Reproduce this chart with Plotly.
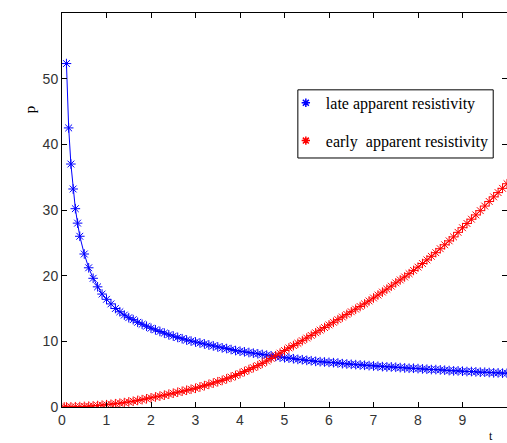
import plotly.graph_objects as go

# late apparent resistivity (blue)
t_late = [0.1, 0.15, 0.2, 0.25, 0.3, 0.35, 0.4, 0.5, 0.6, 0.7, 0.8, 0.9,
          1.0, 1.1, 1.2, 1.3, 1.4, 1.5, 1.6, 1.7, 1.8, 1.9,
          2.0, 2.1, 2.2, 2.3, 2.4, 2.5, 2.6, 2.7, 2.8, 2.9,
          3.0, 3.1, 3.2, 3.3, 3.4, 3.5, 3.6, 3.7, 3.8, 3.9,
          4.0, 4.1, 4.2, 4.3, 4.4, 4.5, 4.6, 4.7, 4.8, 4.9,
          5.0, 5.1, 5.2, 5.3, 5.4, 5.5, 5.6, 5.7, 5.8, 5.9,
          6.0, 6.1, 6.2, 6.3, 6.4, 6.5, 6.6, 6.7, 6.8, 6.9,
          7.0, 7.1, 7.2, 7.3, 7.4, 7.5, 7.6, 7.7, 7.8, 7.9,
          8.0, 8.1, 8.2, 8.3, 8.4, 8.5, 8.6, 8.7, 8.8, 8.9,
          9.0, 9.1, 9.2, 9.3, 9.4, 9.5, 9.6, 9.7, 9.8, 9.9, 10.0]
p_late = [52.3, 42.5, 37.0, 33.2, 30.2, 28.0, 26.0, 23.3, 21.2, 19.6, 18.3, 17.2,
          16.4, 15.7, 15.0, 14.5, 14.0, 13.6, 13.3, 12.9, 12.6, 12.3,
          12.0, 11.75, 11.5, 11.25, 11.0, 10.8, 10.6, 10.4, 10.2, 10.05,
          9.9, 9.75, 9.6, 9.45, 9.3, 9.15, 9.0, 8.9, 8.75, 8.6,
          8.5, 8.4, 8.3, 8.2, 8.1, 8.0, 7.9, 7.8, 7.7, 7.6,
          7.5, 7.45, 7.35, 7.25, 7.2, 7.1, 7.05, 6.95, 6.9, 6.85,
          6.8, 6.75, 6.7, 6.6, 6.55, 6.5, 6.45, 6.4, 6.35, 6.3,
          6.25, 6.2, 6.15, 6.1, 6.1, 6.05, 6.0, 5.95, 5.9, 5.9,
          5.85, 5.8, 5.75, 5.7, 5.7, 5.65, 5.6, 5.55, 5.5, 5.5,
          5.45, 5.4, 5.4, 5.35, 5.3, 5.3, 5.25, 5.2, 5.2, 5.15, 5.15]

# early apparent resistivity (red)
t_early = [0.05, 0.1, 0.2, 0.3, 0.4, 0.5, 0.6, 0.7, 0.8, 0.9,
           1.0, 1.1, 1.2, 1.3, 1.4, 1.5, 1.6, 1.7, 1.8, 1.9,
           2.0, 2.1, 2.2, 2.3, 2.4, 2.5, 2.6, 2.7, 2.8, 2.9,
           3.0, 3.1, 3.2, 3.3, 3.4, 3.5, 3.6, 3.7, 3.8, 3.9,
           4.0, 4.1, 4.2, 4.3, 4.4, 4.5, 4.6, 4.7, 4.8, 4.9,
           5.0, 5.1, 5.2, 5.3, 5.4, 5.5, 5.6, 5.7, 5.8, 5.9,
           6.0, 6.1, 6.2, 6.3, 6.4, 6.5, 6.6, 6.7, 6.8, 6.9,
           7.0, 7.1, 7.2, 7.3, 7.4, 7.5, 7.6, 7.7, 7.8, 7.9,
           8.0, 8.1, 8.2, 8.3, 8.4, 8.5, 8.6, 8.7, 8.8, 8.9,
           9.0, 9.1, 9.2, 9.3, 9.4, 9.5, 9.6, 9.7, 9.8, 9.9, 10.0]
p_early = [0.0, 0.0, 0.02, 0.04, 0.06, 0.09, 0.12, 0.17, 0.22, 0.28,
           0.35, 0.42, 0.5, 0.58, 0.67, 0.77, 0.88, 1.0, 1.12, 1.25,
           1.4, 1.53, 1.66, 1.8, 1.95, 2.1, 2.25, 2.4, 2.55, 2.7,
           2.85, 3.05, 3.25, 3.45, 3.65, 3.85, 4.05, 4.3, 4.55, 4.8,
           5.1, 5.4, 5.7, 6.0, 6.3, 6.65, 7.0, 7.4, 7.8, 8.2,
           8.6, 9.0, 9.35, 9.7, 10.1, 10.5, 10.9, 11.3, 11.7, 12.1,
           12.5, 12.9, 13.3, 13.7, 14.1, 14.5, 14.9, 15.3, 15.7, 16.15,
           16.6, 17.05, 17.5, 17.95, 18.4, 18.9, 19.35, 19.8, 20.3, 20.8,
           21.3, 21.85, 22.4, 22.95, 23.5, 24.1, 24.7, 25.3, 25.9, 26.6,
           27.3, 27.95, 28.6, 29.25, 29.9, 30.6, 31.3, 32.0, 32.65, 33.3, 34.0]

x_ticks = [0, 1, 2, 3, 4, 5, 6, 7, 8, 9, 10]
y_ticks = [0, 10, 20, 30, 40, 50]
names = ["late apparent resistivity", "early  apparent resistivity"]

fig = go.Figure()
fig.add_trace(go.Scatter(x=t_late, y=p_late, mode="lines+markers",
                         line=dict(color="blue", width=1),
                         marker=dict(symbol="asterisk-open", size=8, color="blue",
                                     line=dict(color="blue", width=1)),
                         showlegend=False))
fig.add_trace(go.Scatter(x=t_early, y=p_early, mode="lines+markers",
                         line=dict(color="red", width=1),
                         marker=dict(symbol="asterisk-open", size=8, color="red",
                                     line=dict(color="red", width=1)),
                         showlegend=False))
# legend entries (marker only)
for nm, col, grp in [(names[0], "blue", "a"), (names[1], "red", "b")]:
    fig.add_trace(go.Scatter(x=[None], y=[None], mode="markers", name=nm,
                             legendgroup=grp,
                             marker=dict(symbol="asterisk-open", size=7, color=col,
                                         line=dict(color=col, width=1.5))))

axis_common = dict(showline=True, linecolor="black", linewidth=1,
                   ticks="inside", ticklen=5, tickcolor="black",
                   mirror="ticks", showgrid=False, zeroline=False,
                   automargin=False,
                   tickfont=dict(family="Liberation Sans", size=14, color="#333"))

fig.update_xaxes(range=[0, 10], tickvals=x_ticks, ticktext=[str(v) for v in x_ticks],
                 **axis_common)
fig.update_yaxes(range=[0, 60], tickvals=y_ticks, ticktext=[str(v) for v in y_ticks],
                 **axis_common)

fig.update_layout(
    width=507, height=443,
    margin=dict(l=62, r=0, t=13, b=36),
    plot_bgcolor="white", paper_bgcolor="white",
    legend=dict(x=0.503, y=0.815, xanchor="left", yanchor="top",
                borderwidth=0, bgcolor="rgba(0,0,0,0)",
                traceorder="grouped", tracegroupgap=14, itemwidth=30,
                font=dict(family="Liberation Serif", size=16, color="black")),
    shapes=[dict(type="rect", xref="paper", yref="paper",
                 x0=0.530, x1=0.969, y0=0.632, y1=0.805,
                 line=dict(color="black", width=1), fillcolor="white",
                 layer="below")],
    annotations=[
        dict(text="t", xref="paper", yref="paper", x=0.973, y=-0.052,
             showarrow=False, yanchor="top",
             font=dict(family="Liberation Serif", size=12, color="black")),
        dict(text="p", xref="paper", yref="paper", x=-0.095, y=0.77,
             showarrow=False, textangle=-90,
             font=dict(family="Liberation Serif", size=15, color="black")),
    ],
)

fig.write_html("out.html", config={"displayModeBar": False},
               post_script="document.body.style.margin='0';document.body.style.overflow='hidden';")
